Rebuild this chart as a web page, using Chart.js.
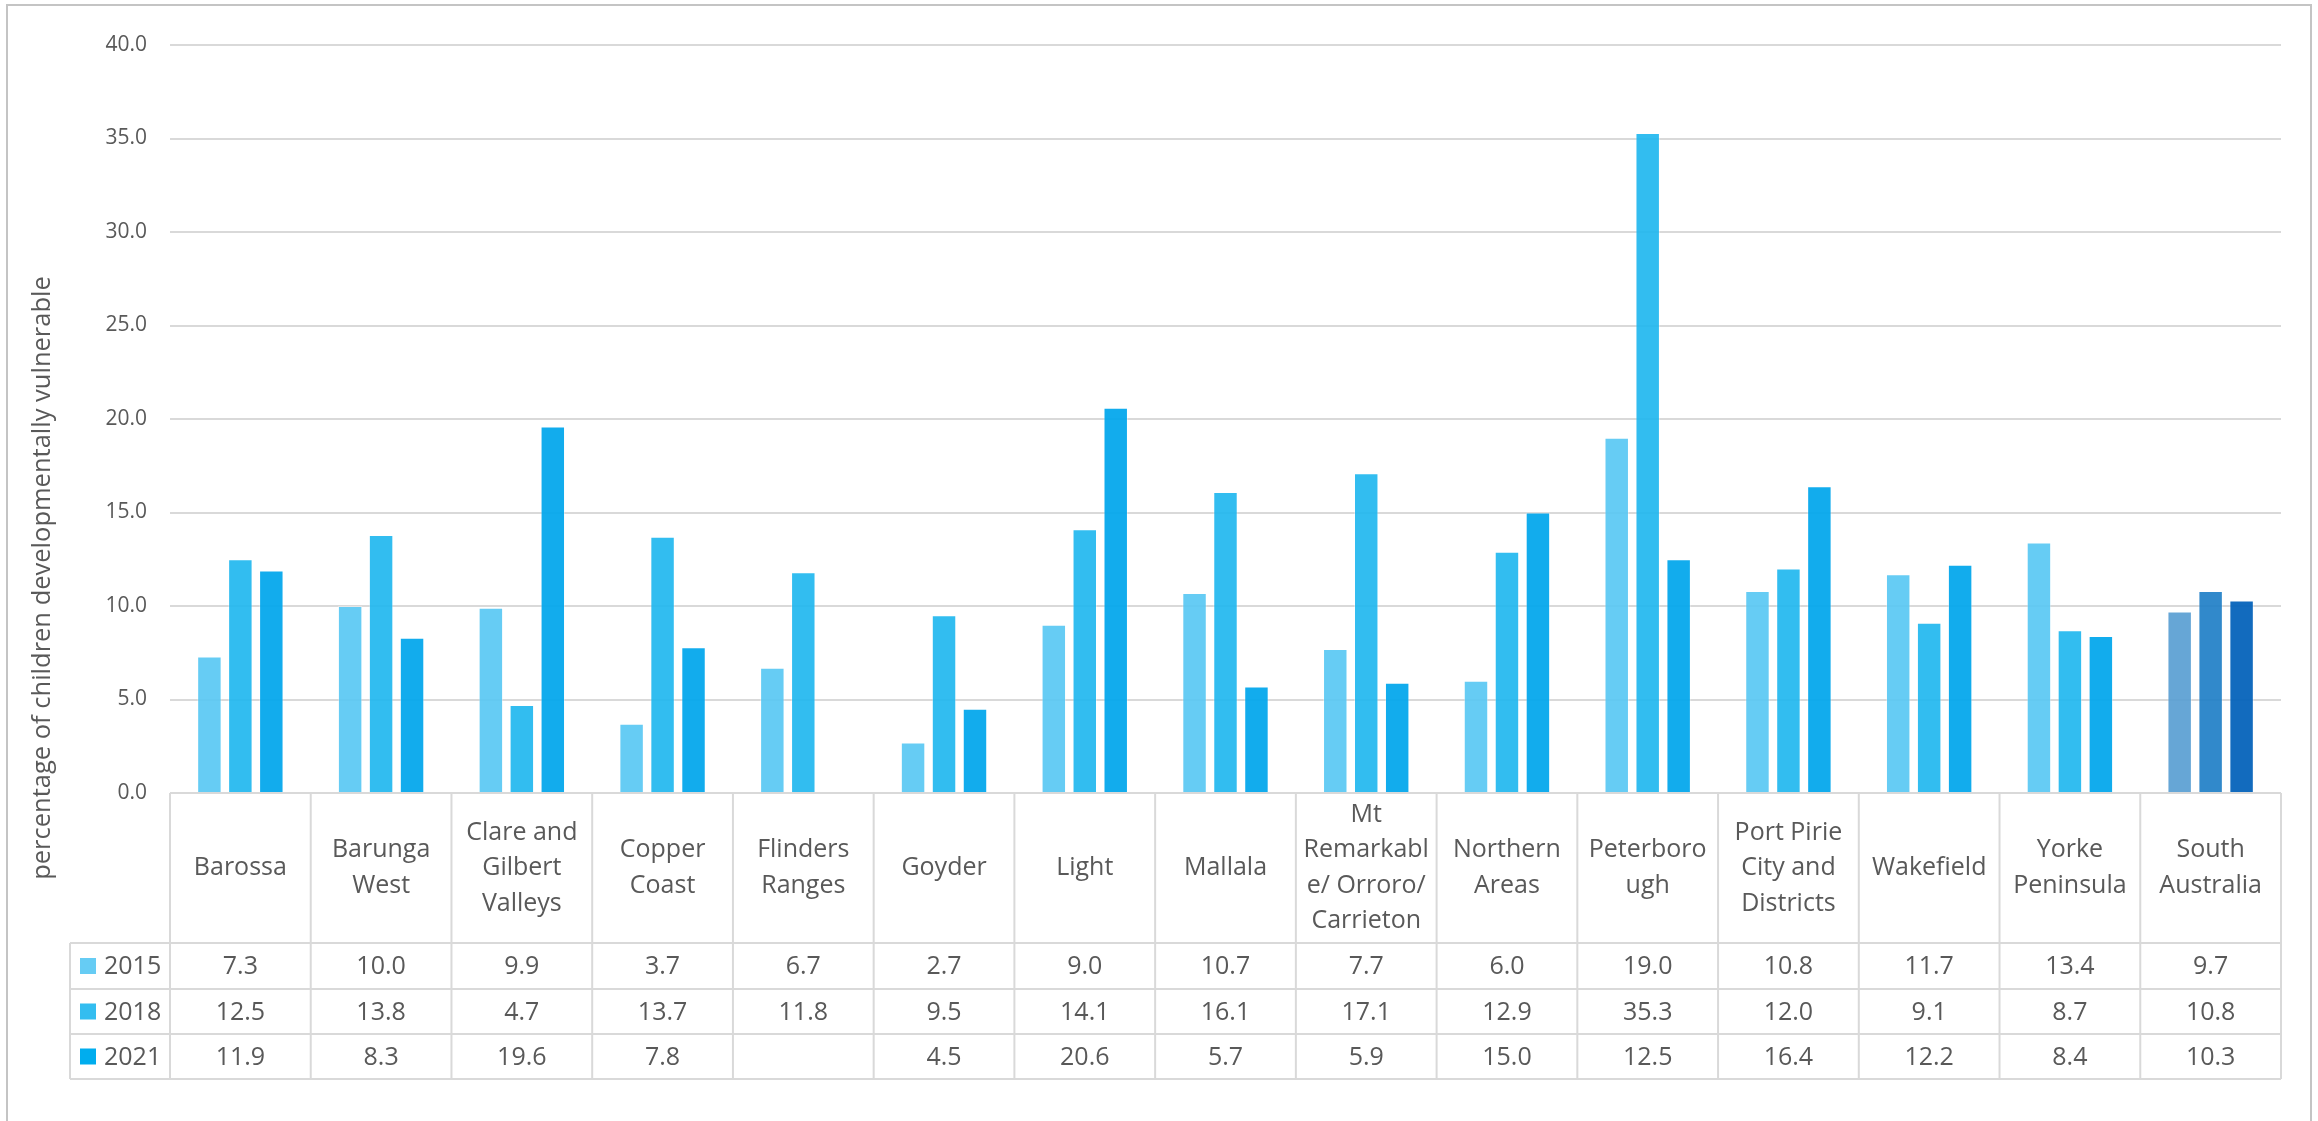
<!DOCTYPE html>
<html>
<head>
<meta charset="utf-8">
<script src="https://cdn.jsdelivr.net/npm/chart.js@4.4.1/dist/chart.umd.min.js"></script>
<style>
  html, body { margin: 0; padding: 0; background: #ffffff; }
  #wrap { width: 2318px; height: 1121px; position: relative; }
</style>
</head>
<body>
<div id="wrap"><canvas id="c" width="2318" height="1121"></canvas></div>
<script>
// Local government areas (multi-line labels as shown in the data table)
const categories = [
  ["Barossa"],
  ["Barunga", "West"],
  ["Clare and", "Gilbert", "Valleys"],
  ["Copper", "Coast"],
  ["Flinders", "Ranges"],
  ["Goyder"],
  ["Light"],
  ["Mallala"],
  ["Mt", "Remarkabl", "e/ Orroro/", "Carrieton"],
  ["Northern", "Areas"],
  ["Peterboro", "ugh"],
  ["Port Pirie", "City and", "Districts"],
  ["Wakefield"],
  ["Yorke", "Peninsula"],
  ["South", "Australia"]
];

const seriesNames = ["2015", "2018", "2021"];

// Percentage of children developmentally vulnerable
const values2015 = [7.3, 10.0, 9.9, 3.7, 6.7, 2.7, 9.0, 10.7, 7.7, 6.0, 19.0, 10.8, 11.7, 13.4, 9.7];
const values2018 = [12.5, 13.8, 4.7, 13.7, 11.8, 9.5, 14.1, 16.1, 17.1, 12.9, 35.3, 12.0, 9.1, 8.7, 10.8];
const values2021 = [11.9, 8.3, 19.6, 7.8, null, 4.5, 20.6, 5.7, 5.9, 15.0, 12.5, 16.4, 12.2, 8.4, 10.3];

const yTicks = [0, 5, 10, 15, 20, 25, 30, 35, 40];
const axisTitle = "percentage of children developmentally vulnerable";

const FONT = "'Open Sans', 'DejaVu Sans', sans-serif";
const TEXT = "#595959";
const LINE = "#d9d9d9";

// region colours, with the state total in darker blues
const regionColors = ["rgba(85,198,243,0.9)", "rgba(28,182,238,0.9)", "rgba(0,166,236,0.93)"];
const stateColors  = ["rgba(85,156,209,0.9)", "rgba(27,124,197,0.9)", "rgba(0,96,185,0.93)"];
const swatchColors = ["#66ccf4", "#33bdf0", "#00adee"];

function colorsFor(si) {
  return categories.map((_, i) => i === categories.length - 1 ? stateColors[si] : regionColors[si]);
}

const seriesValues = [values2015, values2018, values2021];

const datasets = seriesNames.map((name, si) => ({
  label: name,
  data: seriesValues[si],
  backgroundColor: colorsFor(si),
  borderColor: "rgba(255,255,255,0.35)",
  borderWidth: 1,
  categoryPercentage: 0.66,
  barPercentage: 0.79
}));

const TABLE_BOTTOM_ROWS = [943, 989, 1034, 1079];
const LEGEND_LEFT = 70;

const tablePlugin = {
  id: "dataTable",
  beforeDraw(chart) {
    const ctx = chart.ctx;
    ctx.save();
    ctx.fillStyle = "#ffffff";
    ctx.fillRect(0, 0, chart.width, chart.height);
    // outer frame
    ctx.strokeStyle = "#c4c4c4";
    ctx.lineWidth = 2;
    ctx.beginPath();
    ctx.moveTo(7, 1130); ctx.lineTo(7, 5); ctx.lineTo(2311, 5); ctx.lineTo(2311, 1130);
    ctx.stroke();
    ctx.restore();
  },
  afterDraw(chart) {
    const ctx = chart.ctx;
    const area = chart.chartArea;
    const x = chart.scales.x;
    const n = categories.length;
    const w = (area.right - area.left) / n;
    const top = area.bottom;
    const [r0, r1, r2, r3] = TABLE_BOTTOM_ROWS;

    ctx.save();
    ctx.strokeStyle = LINE;
    ctx.lineWidth = 2;
    ctx.beginPath();
    // horizontal rules
    ctx.moveTo(area.left, top); ctx.lineTo(area.right, top);
    [r0, r1, r2, r3].forEach(y => { ctx.moveTo(LEGEND_LEFT, y); ctx.lineTo(area.right, y); });
    // vertical rules
    for (let i = 0; i <= n; i++) {
      const xx = area.left + i * w;
      ctx.moveTo(xx, top); ctx.lineTo(xx, r3);
    }
    ctx.moveTo(LEGEND_LEFT, r0); ctx.lineTo(LEGEND_LEFT, r3);
    ctx.stroke();

    // category names
    ctx.fillStyle = TEXT;
    ctx.font = "25px " + FONT;
    ctx.textAlign = "center";
    ctx.textBaseline = "middle";
    const lineH = 35.5;
    const midY = (top + r0) / 2;
    categories.forEach((lines, i) => {
      const cx = x.getPixelForValue(i);
      const y0 = midY - (lines.length - 1) * lineH / 2;
      lines.forEach((t, k) => ctx.fillText(t, cx, y0 + k * lineH));
    });

    // value rows with legend keys
    const rowTops = [r0, r1, r2];
    const rowBots = [r1, r2, r3];
    seriesNames.forEach((name, si) => {
      const cy = (rowTops[si] + rowBots[si]) / 2;
      ctx.fillStyle = swatchColors[si];
      ctx.fillRect(80, cy - 8, 16, 16);
      ctx.fillStyle = TEXT;
      ctx.textAlign = "left";
      ctx.fillText(name, 104, cy + 1);
      ctx.textAlign = "center";
      seriesValues[si].forEach((v, i) => {
        if (v === null) return;
        ctx.fillText(v.toFixed(1), x.getPixelForValue(i), cy + 1);
      });
    });

    // vertical axis title
    ctx.font = "25.5px " + FONT;
    ctx.translate(43, 578);
    ctx.rotate(-Math.PI / 2);
    ctx.textAlign = "center";
    ctx.fillText(axisTitle, 0, 0);
    ctx.restore();
  }
};

function draw() {
  new Chart(document.getElementById("c"), {
    type: "bar",
    data: { labels: categories.map(l => l.join(" ")), datasets },
    options: {
      responsive: false,
      devicePixelRatio: 1,
      animation: false,
      layout: { padding: { left: 0, right: 37, top: 45, bottom: 0 } },
      plugins: { legend: { display: false }, tooltip: { enabled: false } },
      scales: {
        x: {
          grid: { display: false },
          border: { display: false },
          ticks: { display: false },
          afterFit(scale) { scale.height = 1121 - 793; }
        },
        y: {
          min: 0,
          max: 40,
          afterBuildTicks(scale) { scale.ticks = yTicks.map(v => ({ value: v })); },
          afterFit(scale) { scale.width = 170; },
          border: { display: false },
          grid: { color: LINE, lineWidth: 2, drawTicks: false },
          ticks: {
            padding: 23,
            color: TEXT,
            font: { family: FONT, size: 21 },
            callback: v => Number(v).toFixed(1)
          }
        }
      }
    },
    plugins: [tablePlugin]
  });
}

Promise.all([
  document.fonts.load("25px 'Open Sans'"),
  document.fonts.load("21px 'Open Sans'")
]).then(draw, draw);
</script>
</body>
</html>
